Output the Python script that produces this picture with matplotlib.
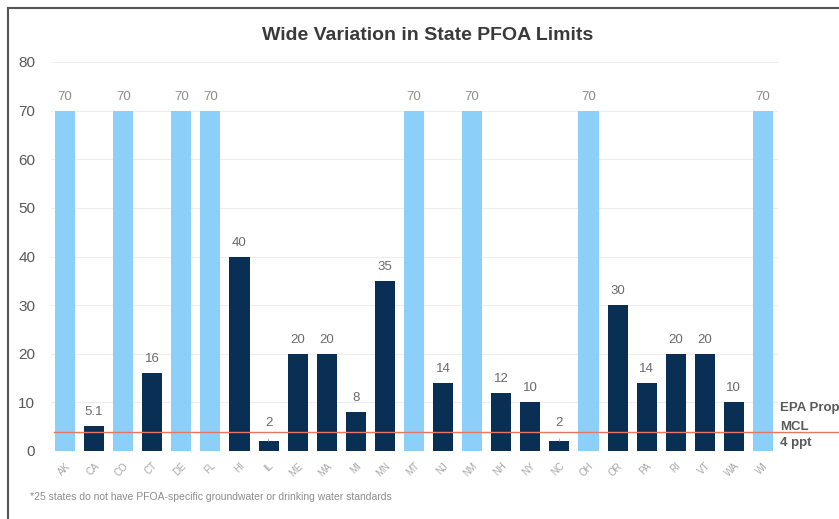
import matplotlib
matplotlib.use("Agg")
import matplotlib.pyplot as plt
from matplotlib.lines import Line2D

plt.rcParams['font.family'] = ['Liberation Sans', 'DejaVu Sans']

states = ["AK", "CA", "CO", "CT", "DE", "FL", "HI", "IL", "ME", "MA", "MI", "MN", "MT",
          "NJ", "NM", "NH", "NY", "NC", "OH", "OR", "PA", "RI", "VT", "WA", "WI"]
limits = [70, 5.1, 70, 16, 70, 70, 40, 2, 20, 20, 8, 35, 70,
          14, 70, 12, 10, 2, 70, 30, 14, 20, 20, 10, 70]
# True = no state-specific standard (shown at health advisory level, light bars)
advisory = [True, False, True, False, True, True, False, False, False, False, False, False, True,
            False, True, False, False, False, True, False, False, False, False, False, True]
epa_mcl = 4
title = "Wide Variation in State PFOA Limits"
footnote = "*25 states do not have PFOA-specific groundwater or drinking water standards"
yticks = [0, 10, 20, 30, 40, 50, 60, 70, 80]

LIGHT = "#8ccff8"
DARK = "#0a2f55"
RED = "#e8775f"

fig = plt.figure(figsize=(8.39, 5.19), dpi=100)
W, H = 839, 519
ax = fig.add_axes([50.5 / W, 1 - 451 / H, 727 / W, 389 / H])

x = list(range(len(states)))
colors = [LIGHT if a else DARK for a in advisory]
ax.bar(x, limits, width=0.69, color=colors, zorder=2)

ax.set_xlim(-0.5, len(states) - 0.5)
ax.set_ylim(0, 80)
ax.set_yticks(yticks)
ax.set_yticklabels([str(t) for t in yticks], fontsize=11, color="#595959")
ax.set_xticks(x)
ax.set_xticklabels(states, rotation=45, ha="right", rotation_mode="anchor",
                   fontsize=7, color="#a6a6a6")
ax.tick_params(axis="both", length=0)
ax.tick_params(axis="y", pad=11)
ax.tick_params(axis="x", pad=7)
for s in ax.spines.values():
    s.set_visible(False)
ax.grid(axis="y", color="#ededed", linewidth=0.8, zorder=0)
ax.set_axisbelow(True)

for xi, v, a in zip(x, limits, advisory):
    lab = f"{v:g}"
    col = "#8c8c8c" if a else "#6b6b6b"
    if v <= 3:
        ax.annotate(lab, xy=(xi, v), xytext=(0, 13), textcoords="offset points",
                    ha="center", va="center", fontsize=9.5, color=col,
                    arrowprops=dict(arrowstyle="-", color="#a0a0a0", lw=0.6,
                                    shrinkA=5, shrinkB=0))
    else:
        ax.annotate(lab, xy=(xi, v), xytext=(0, 10), textcoords="offset points",
                    ha="center", va="center", fontsize=9.5, color=col)

# EPA proposed MCL line
ax.axhline(epa_mcl, xmin=0.005, xmax=1.1, color=RED, lw=1.0, zorder=3, clip_on=False)
tr = ax.get_yaxis_transform()
ax.text(1.004, 8.8, "EPA Prop", transform=tr, fontsize=9.5,
        color="#595959", ha="left", va="center", fontweight="bold")
ax.text(1.004, 5.0, "MCL", transform=tr, fontsize=9.5,
        color="#595959", ha="left", va="center", fontweight="bold")
ax.text(1.004, 1.7, "4 ppt", transform=tr, fontsize=9.5,
        color="#595959", ha="left", va="center", fontweight="bold")

fig.text(428 / W, 1 - 35 / H, title, ha="center", va="center", fontsize=14,
         fontweight="bold", color="#3a3a3a")
fig.text(30 / W, 1 - 497 / H, footnote, ha="left", va="center", fontsize=7.5,
         color="#8c8c8c")

# screenshot frame
fig.add_artist(Line2D([8 / W, 8 / W], [0, 1 - 8 / H], transform=fig.transFigure,
                      color="#555555", lw=1.5))
fig.add_artist(Line2D([8 / W, 1], [1 - 8 / H, 1 - 8 / H], transform=fig.transFigure,
                      color="#555555", lw=1.5))

fig.savefig("out.png", dpi=100)
